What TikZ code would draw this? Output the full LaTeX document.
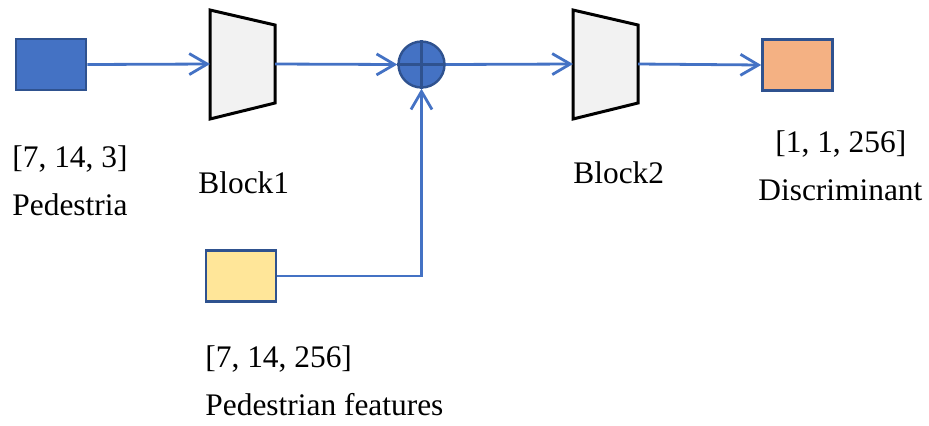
\documentclass[tikz,border=0pt]{standalone}
\usepackage{fontspec}
\setmainfont{Liberation Serif}
\usetikzlibrary{arrows.meta, positioning}
\definecolor{mblue}{HTML}{4472C4}
\definecolor{dblue}{HTML}{2F528F}
\definecolor{morange}{HTML}{F4B183}
\definecolor{myellow}{HTML}{FFE699}
\definecolor{lgray}{HTML}{F2F2F2}

\begin{document}
\begin{tikzpicture}[
    x=0.5pt, y=-0.5pt,
    box/.style={rectangle, draw=dblue, line width=1.3pt, minimum width=35pt, minimum height=25.5pt, inner sep=0pt},
    sum/.style={circle, draw=dblue, fill=mblue, line width=1.2pt, minimum size=23pt, inner sep=0pt},
    trap/.style={draw=black, fill=lgray, line width=1.5pt, line join=miter},
    lbl/.style={anchor=base west, inner sep=0pt, font=\fontsize{15.7}{19}\selectfont},
    flow/.style={draw=mblue, line width=1.4pt, -{Straight Barb[length=9pt, width=10.5pt, line width=1.4pt]}},
  ]
  \useasboundingbox (0,0) rectangle (929,425);

  \node[box, fill=mblue]   (ped)  at (51,64.5) {};
  \node[box, fill=myellow] (feat) at (241,276) {};
  \node[box, fill=morange] (disc) at (797.5,65) {};
  \node[sum] (add) at (421.5,64.5) {};
  \draw[dblue, line width=1.2pt] (add.north) -- (add.south) (add.west) -- (add.east);

  % blocks
  \draw[trap] (210,10) -- (275,25) -- (275,103) -- (210,119) -- cycle;
  \draw[trap] (573,10) -- (638,25) -- (638,103) -- (573,119) -- cycle;
  \coordinate (b1in)  at (210,64);
  \coordinate (b1out) at (275,64);
  \coordinate (b2in)  at (573,64);
  \coordinate (b2out) at (638,64);

  \node[lbl] (pedsize)  at (12,167)  {[7, 14, 3]};
  \node[lbl] (pedname)  at (12,215)  {Pedestria};
  \node[lbl] (b1name)   at (198,193) {Block1};
  \node[lbl] (b2name)   at (573,183) {Block2};
  \node[lbl] (discsize) at (775,152) {[1, 1, 256]};
  \node[lbl] (discname) at (758,200) {Discriminant};
  \node[lbl] (featsize) at (205,367) {[7, 14, 256]};
  \node[lbl] (featname) at (205,415) {Pedestrian features};

  \draw[flow] (ped.east) -- (b1in);
  \draw[flow] (b1out) -- (add.west);
  \draw[flow] (add.east) -- (b2in);
  \draw[flow] (b2out) -- (disc.west);
  \draw[flow] (feat.east) -| (add.south);
\end{tikzpicture}
\end{document}
